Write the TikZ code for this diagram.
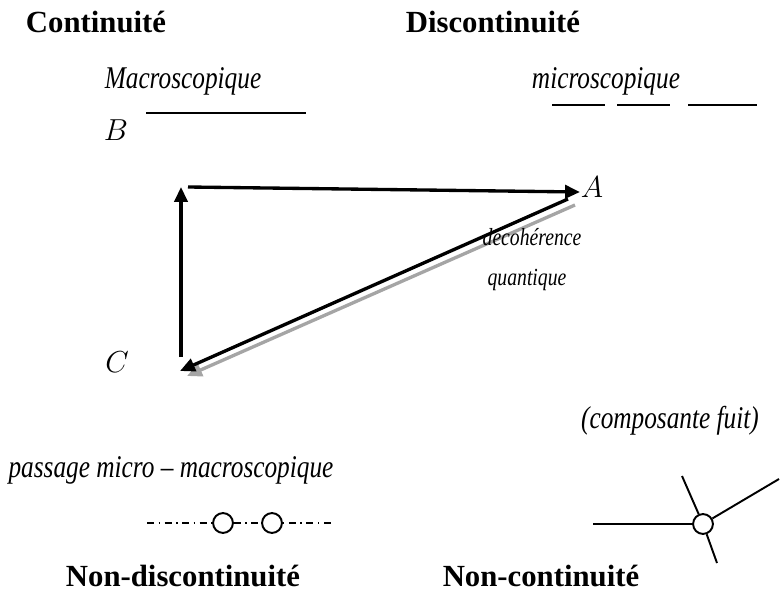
\documentclass[tikz,border=0pt]{standalone}
\usepackage{fontspec}
\setmainfont{Liberation Serif}
\newfontfamily\narrowfam{Liberation Serif}[FakeStretch=0.8]
\usepackage{xcolor}
\definecolor{ink}{RGB}{0,0,0}
\definecolor{greyline}{RGB}{165,165,165}
\usepackage{tikz}
\usetikzlibrary{arrows.meta}

\begin{document}
\begin{tikzpicture}[x=0.02cm,y=-0.02cm,
  title/.style={inner sep=0pt,font=\fontsize{17.5}{20}\selectfont\bfseries},
  note/.style={inner sep=0pt,font=\fontsize{18}{20}\selectfont\narrowfam\itshape},
  small/.style={inner sep=0pt,font=\fontsize{14}{16}\selectfont\narrowfam\itshape},
  corner/.style={inner sep=0pt,font=\fontsize{16}{18}\selectfont},
  side/.style={line width=1.9pt,-{Triangle[length=8.5pt,width=7.5pt]}},
  thinline/.style={line width=1.1pt,ink},
  hole/.style={circle,draw=ink,line width=1.1pt,fill=white,minimum size=11.3pt,inner sep=0pt},
]
  \useasboundingbox (0,0) rectangle (784,591);

  %% headings
  \node[title](cont) at (96,22) {Continuité};
  \node[title](disc) at (493,22) {Discontinuité};
  \node[title](ndisc) at (183,576) {Non-discontinuité};
  \node[title](ncont) at (541,576) {Non-continuité};

  %% scales
  \node[note](macro) at (183,81) {Macroscopique};
  \node[note](micro) at (606,81) {microscopique};
  \draw[thinline] (146,113) -- (306,113);
  \foreach \xa/\xb in {552/605, 617/670, 688/757}{%
    \draw[thinline] (\xa,105) -- (\xb,105);
  }

  %% triangle
  \node[corner](B) at (116,130) {$B$};
  \node[corner](A) at (592,187) {$A$};
  \node[corner](C) at (117,362) {$C$};
  \coordinate (cb) at (181,187);
  \coordinate (cb0) at (181,357);
  \coordinate (cb1) at (188,187);
  \coordinate (ca) at (580,192);
  \coordinate (ca1) at (568,199);
  \coordinate (cc) at (180,371);

  \draw[side,color=greyline] ([shift={(7,6)}]ca1) -- ([shift={(7,5)}]cc);
  \draw[side,color=ink] (cb0) -- (cb);
  \draw[side,color=ink] (cb1) -- (ca);
  \draw[side,color=ink] (ca1) -- (cc);

  \node[small](deco) at (532,237) {decohérence};
  \node[small](quant) at (527,280) {quantique};

  %% passage
  \node[note](pass) at (171,470) {passage micro – macroscopique};
  \node[hole](o1) at (223,523) {};
  \node[hole](o2) at (272,523) {};
  \coordinate (d0) at (147,523);
  \coordinate (d1) at (332,523);
  \draw[thinline,dash pattern=on 4pt off 2.6pt on 0.8pt off 2.6pt] (d0) -- (o1.west);
  \draw[thinline,dash pattern=on 4pt off 2.6pt on 0.8pt off 2.6pt] (o1.east) -- (o2.west);
  \draw[thinline,dash pattern=on 0.8pt off 2.6pt on 4pt off 2.6pt] (o2.east) -- (d1);

  %% branching
  \node[note](fuit) at (670,421) {(composante fuit)};
  \node[hole](jn) at (703,524) {};
  \coordinate (j0) at (593,524);
  \coordinate (j1) at (779,479);
  \coordinate (j2) at (682,476);
  \coordinate (j3) at (717,563);
  \draw[thinline] (j0) -- (jn);
  \draw[thinline] (jn) -- (j1);
  \draw[thinline] (jn) -- (j2);
  \draw[thinline] (jn) -- (j3);
\end{tikzpicture}
\end{document}
